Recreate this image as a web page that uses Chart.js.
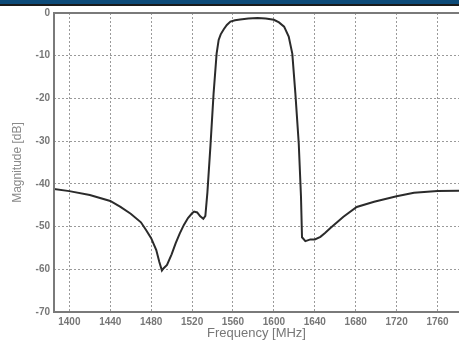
<!DOCTYPE html>
<html>
<head>
<meta charset="utf-8">
<script src="https://cdn.jsdelivr.net/npm/chart.js@4"></script>
<style>
  html, body { margin: 0; padding: 0; background: #fff; }
  canvas { display: block; }
</style>
</head>
<body>
<canvas id="chart" width="459" height="340"></canvas>
<script>
// Filter response
const freqMHz = [1385, 1400, 1420, 1440, 1450, 1460, 1470, 1475, 1480, 1485, 1488, 1490.5, 1492, 1495.5,
  1500, 1504, 1508, 1512, 1516, 1520, 1522, 1525, 1528, 1531, 1533, 1535, 1538, 1541, 1544, 1546, 1548,
  1551, 1554, 1557.5, 1562, 1567, 1575, 1584, 1592, 1600, 1605, 1610, 1614.5, 1618, 1621, 1624.3, 1626.5,
  1627.5, 1630.8, 1635.7, 1640, 1645.5, 1650, 1655, 1668, 1681, 1698, 1720, 1737, 1760, 1781];
const magnitudeDb = [-41.2, -41.7, -42.6, -44.0, -45.4, -47.0, -49.0, -50.8, -52.7, -55.5, -58.3, -60.3, -59.8, -59.0,
  -56.5, -53.9, -51.6, -49.6, -48.0, -46.9, -46.5, -46.7, -47.6, -48.2, -47.5, -42, -31, -19, -9.5, -6.3, -5,
  -3.8, -2.8, -2.0, -1.7, -1.5, -1.3, -1.2, -1.3, -1.6, -2.2, -3.2, -5.5, -9.5, -18.8, -30.5, -43,
  -52.5, -53.4, -53.0, -53.0, -52.4, -51.5, -50.4, -47.7, -45.4, -44.2, -42.9, -42.1, -41.7, -41.6];
const xTicks = [1400, 1440, 1480, 1520, 1560, 1600, 1640, 1680, 1720, 1760];
const yTicks = [0, -10, -20, -30, -40, -50, -60, -70];

const points = freqMHz.map((f, i) => ({ x: f, y: magnitudeDb[i] }));

// white page with the blue/black strip on top
const pagePlugin = {
  id: 'page',
  beforeDraw(chart) {
    const c = chart.ctx;
    c.save();
    c.fillStyle = '#fff';
    c.fillRect(0, 0, chart.width, chart.height);
    c.fillStyle = '#0d4b79';
    c.fillRect(0, 0, chart.width, 4);
    c.fillStyle = '#1b1b1b';
    c.fillRect(0, 4, chart.width, 2);
    c.restore();
  }
};

// grey frame round the plot area
const framePlugin = {
  id: 'frame',
  afterDatasetsDraw(chart) {
    const a = chart.chartArea;
    const c = chart.ctx;
    c.save();
    c.strokeStyle = '#7a7a7a';
    c.lineWidth = 2;
    c.strokeRect(a.left, a.top, a.right - a.left + 4, a.bottom - a.top);
    c.restore();
  }
};

const tickFont = { family: 'Liberation Sans, Arial, sans-serif', size: 10, weight: 'bold' };

new Chart(document.getElementById('chart'), {
  type: 'scatter',
  data: {
    datasets: [{
      data: points,
      showLine: true,
      borderColor: '#2b2b2b',
      borderWidth: 2,
      pointRadius: 0,
      tension: 0
    }]
  },
  options: {
    responsive: false,
    animation: false,
    layout: { padding: { left: 0, right: 0, top: 13, bottom: 0 } },
    plugins: { legend: { display: false }, tooltip: { enabled: false } },
    scales: {
      x: {
        type: 'linear',
        min: 1385,
        max: 1781,
        afterBuildTicks: s => { s.ticks = xTicks.map(v => ({ value: v })); },
        afterFit: s => { s.height = 28; },
        grid: { color: '#9a9a9a', lineWidth: 1, drawTicks: false },
        border: { display: false, dash: [2, 2] },
        ticks: { color: '#777', font: tickFont, padding: 4, maxRotation: 0, autoSkip: false,
                 callback: v => String(v) },
        title: {
          display: true,
          text: 'Frequency [MHz]',
          color: '#777',
          font: { family: 'Liberation Sans, Arial, sans-serif', size: 13 },
          padding: { top: 0, bottom: -1 }
        }
      },
      y: {
        min: -70,
        max: 0,
        afterBuildTicks: s => { s.ticks = yTicks.map(v => ({ value: v })); },
        afterFit: s => { s.width = 54; },
        grid: { color: '#9a9a9a', lineWidth: 1, drawTicks: false },
        border: { display: false, dash: [2, 2] },
        ticks: { color: '#777', font: tickFont, padding: 4, callback: v => String(v) },
        title: {
          display: true,
          text: 'Magnitude [dB]',
          color: '#8a8a8a',
          font: { family: 'Liberation Sans, Arial, sans-serif', size: 12 },
          padding: { top: 10, bottom: 0 }
        }
      }
    }
  },
  plugins: [pagePlugin, framePlugin]
});
</script>
</body>
</html>
